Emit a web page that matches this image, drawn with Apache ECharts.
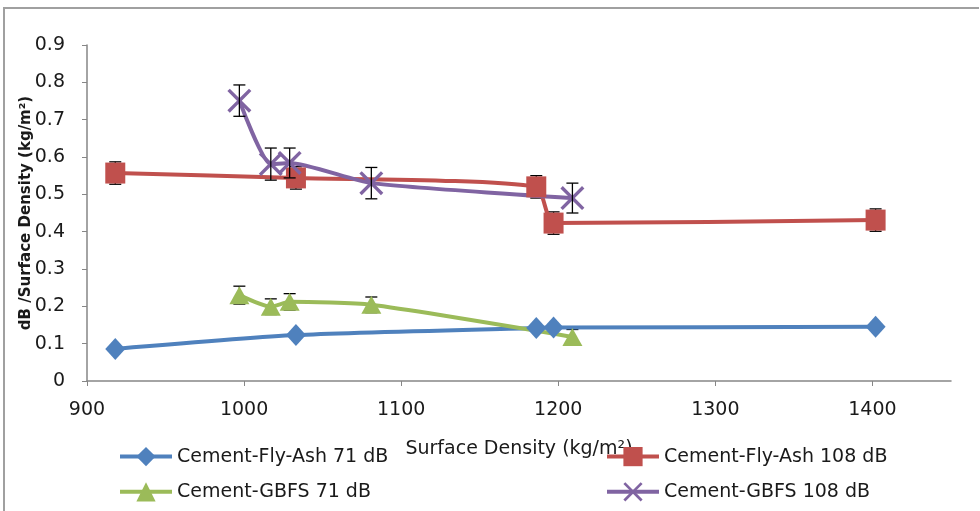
<!DOCTYPE html>
<html>
<head>
<meta charset="utf-8">
<script src="https://cdn.jsdelivr.net/npm/echarts@6/dist/echarts.min.js"></script>
<style>html,body{margin:0;padding:0;background:#fff;overflow:hidden}#c{width:980px;height:511px}</style>
</head>
<body>
<div id="c"></div>
<script>
// ---- data ----
const seriesNames = ['Cement-Fly-Ash 71 dB', 'Cement-Fly-Ash 108 dB', 'Cement-GBFS 71 dB', 'Cement-GBFS 108 dB'];
const xFlyAsh = [918, 1033, 1186, 1197, 1402];
const yFlyAsh71 = [0.086, 0.123, 0.142, 0.143, 0.145];
const yFlyAsh108 = [0.557, 0.544, 0.520, 0.423, 0.431];
const errFlyAsh108 = [0.03, 0.03, 0.03, 0.03, 0.03];
const xGBFS = [997, 1017, 1029, 1081, 1209];
const yGBFS71 = [0.230, 0.199, 0.212, 0.204, 0.118];
const errGBFS71 = [0.024, 0.021, 0.022, 0.021, 0.02];
const yGBFS108 = [0.751, 0.581, 0.584, 0.530, 0.490];
const errGBFS108 = [0.042, 0.043, 0.040, 0.042, 0.040];
const xTicks = [900, 1000, 1100, 1200, 1300, 1400];
const yTicks = [0, 0.1, 0.2, 0.3, 0.4, 0.5, 0.6, 0.7, 0.8, 0.9];

const colors = ['#4F81BD', '#C0504D', '#9BBB59', '#8064A2'];
const FONT = 'DejaVu Sans';
const crossPath = 'path://M0,1 L1,0 L5,4 L9,0 L10,1 L6,5 L10,9 L9,10 L5,6 L1,10 L0,9 L4,5 Z';

function pairs(xs, ys) { return xs.map((x, i) => [x, ys[i]]); }
function triples(xs, ys, es) { return xs.map((x, i) => [x, ys[i], es[i]]); }

function errRender(params, api) {
  const x = api.value(0), y = api.value(1), e = api.value(2);
  const t = api.coord([x, y + e]);
  const b = api.coord([x, y - e]);
  const hw = 6;
  const st = { stroke: '#000', lineWidth: 1.3 };
  return {
    type: 'group',
    children: [
      { type: 'line', shape: { x1: t[0], y1: t[1], x2: b[0], y2: b[1] }, style: st },
      { type: 'line', shape: { x1: t[0] - hw, y1: t[1], x2: t[0] + hw, y2: t[1] }, style: st },
      { type: 'line', shape: { x1: b[0] - hw, y1: b[1], x2: b[0] + hw, y2: b[1] }, style: st }
    ]
  };
}

function lineSeries(i, data, symbol, size) {
  return {
    name: seriesNames[i],
    type: 'line',
    data: data,
    smooth: 0.2,
    symbol: symbol,
    symbolSize: size,
    showAllSymbol: true,
    z: 2,
    lineStyle: { width: 4, color: colors[i] },
    itemStyle: { color: colors[i] },
    emphasis: { disabled: true }
  };
}

function errSeries(name, data, z) {
  return {
    name: name,
    type: 'custom',
    renderItem: errRender,
    data: data,
    encode: { x: 0, y: 1 },
    z: z,
    silent: true
  };
}

const legendBase = {
  orient: 'vertical',
  top: 442,
  itemWidth: 52,
  itemHeight: 24,
  itemGap: 16,
  lineStyle: { width: 4 },
  textStyle: { fontFamily: FONT, fontSize: 19, color: '#1a1a1a' },
  selectedMode: false
};

const chart = echarts.init(document.getElementById('c'), null, { renderer: 'canvas' });
chart.setOption({
  animation: false,
  backgroundColor: '#fff',
  textStyle: { fontFamily: FONT, color: '#1a1a1a' },
  graphic: [{
    type: 'polyline',
    shape: { points: [[4, 520], [4, 8], [979, 8]] },
    style: { fill: null, stroke: '#a0a0a0', lineWidth: 2 },
    silent: true,
    z: -10
  }],
  grid: { left: 87, right: 29, top: 45, bottom: 130, containLabel: false },
  xAxis: {
    type: 'value',
    min: 900,
    max: 1450,
    interval: 100,
    name: 'Surface Density (kg/m\u00B2)',
    nameLocation: 'middle',
    nameGap: 59,
    nameMoveOverlap: false,
    nameTextStyle: { fontFamily: FONT, fontSize: 19, color: '#1a1a1a' },
    splitLine: { show: false },
    axisLine: { lineStyle: { color: '#868686', width: 1.5 } },
    axisTick: { length: 5, lineStyle: { color: '#868686' }, customValues: xTicks },
    axisLabel: { fontFamily: FONT, fontSize: 19, color: '#1a1a1a', margin: 20, customValues: xTicks,
      formatter: v => String(v) }
  },
  yAxis: {
    type: 'value',
    min: 0,
    max: 0.9,
    interval: 0.1,
    name: 'dB /Surface Density (kg/m\u00B2)',
    nameLocation: 'middle',
    nameGap: 53,
    nameMoveOverlap: false,
    nameTextStyle: { fontFamily: FONT, fontSize: 15, fontWeight: 'bold', color: '#1a1a1a' },
    splitLine: { show: false },
    axisLine: { show: true, lineStyle: { color: '#868686', width: 1.5 } },
    axisTick: { show: true, length: 5, lineStyle: { color: '#868686' }, customValues: yTicks },
    axisLabel: { fontFamily: FONT, fontSize: 19, color: '#1a1a1a', margin: 22, customValues: yTicks,
      formatter: v => String(Math.round(v * 10) / 10) }
  },
  legend: [
    Object.assign({}, legendBase, { left: 113, data: [seriesNames[0], seriesNames[2]] }),
    Object.assign({}, legendBase, { left: 600, data: [seriesNames[1], seriesNames[3]] })
  ],
  series: [
    errSeries('err-fa108', triples(xFlyAsh, yFlyAsh108, errFlyAsh108), 1),
    errSeries('err-gb71', triples(xGBFS, yGBFS71, errGBFS71), 1),
    lineSeries(0, pairs(xFlyAsh, yFlyAsh71), 'diamond', [20, 22]),
    lineSeries(1, pairs(xFlyAsh, yFlyAsh108), 'rect', [20, 21]),
    lineSeries(2, pairs(xGBFS, yGBFS71), 'triangle', [20, 18]),
    lineSeries(3, pairs(xGBFS, yGBFS108), crossPath, [24, 24]),
    errSeries('err-gb108', triples(xGBFS, yGBFS108, errGBFS108), 5)
  ]
});
</script>
</body>
</html>
